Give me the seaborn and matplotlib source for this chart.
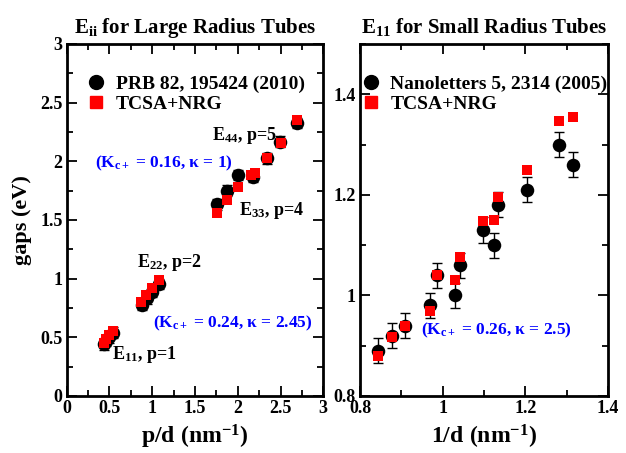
import pandas as pd
import matplotlib
matplotlib.use('Agg')
import matplotlib.pyplot as plt
import seaborn as sns
from matplotlib.ticker import MultipleLocator, FormatStrFormatter
from matplotlib.lines import Line2D

# painel esquerdo: tubos de raio grande
esq_x_exp = [0.435, 0.463, 0.497, 0.54, 0.877, 0.936, 1.0, 1.08,
             1.754, 1.878, 2.007, 2.18, 2.34, 2.495, 2.697]
esq_y_exp = [0.44, 0.47, 0.50, 0.54, 0.776, 0.833, 0.889, 0.955,
             1.634, 1.75, 1.884, 1.865, 2.026, 2.168, 2.325]
esq_x_teo = [0.435, 0.463, 0.497, 0.54, 0.869, 0.927, 0.994, 1.08,
             1.754, 1.878, 2.007, 2.152, 2.2, 2.34, 2.506, 2.697]
esq_y_teo = [0.455, 0.485, 0.52, 0.555, 0.804, 0.861, 0.918, 0.989,
             1.563, 1.671, 1.784, 1.884, 1.9, 2.026, 2.16, 2.353]
esq_erro = 0.045

# painel direito: tubos de raio pequeno
dir_x_exp = [0.844, 0.877, 0.909, 0.970, 0.987, 1.030, 1.041, 1.097,
             1.123, 1.135, 1.204, 1.281, 1.316]
dir_y_exp = [0.89, 0.92, 0.94, 0.98, 1.04, 1.00, 1.06, 1.13,
             1.10, 1.18, 1.21, 1.30, 1.26]
dir_y_teo = [0.88, 0.917, 0.94, 0.97, 1.04, 1.03, 1.076, 1.148,
             1.15, 1.196, 1.25, 1.347, 1.355]
dir_erro = 0.025

sns.set_theme(style="ticks")
plt.rcParams['font.family'] = ['Liberation Serif', 'DejaVu Serif']
plt.rcParams['font.weight'] = 'bold'
plt.rcParams['mathtext.fontset'] = 'custom'
plt.rcParams['mathtext.rm'] = 'Liberation Serif:bold'
plt.rcParams['mathtext.it'] = 'Liberation Serif:bold'
plt.rcParams['mathtext.bf'] = 'Liberation Serif:bold'
for chave in ['text.color', 'axes.labelcolor', 'xtick.color', 'ytick.color', 'axes.edgecolor']:
    plt.rcParams[chave] = 'black'

fig = plt.figure(figsize=(6.26, 4.53), dpi=100)
ax1 = fig.add_axes([66.7 / 626, 1 - 396 / 453, 256.6 / 626, 352 / 453])
ax2 = fig.add_axes([360 / 626, 1 - 396 / 453, 248 / 626, 352 / 453])


def desenha(ax, x_exp, y_exp, erro, x_teo, y_teo):
    df_exp = pd.DataFrame({'x': x_exp, 'y': y_exp})
    df_teo = pd.DataFrame({'x': x_teo, 'y': y_teo})
    ax.errorbar(df_exp['x'], df_exp['y'], yerr=erro, fmt='none', ecolor='black',
                elinewidth=1.0, capsize=3.5, capthick=1.0, zorder=2)
    sns.scatterplot(data=df_exp, x='x', y='y', ax=ax, marker='o', color='black',
                    s=95, edgecolor='black', linewidth=0, zorder=3)
    sns.scatterplot(data=df_teo, x='x', y='y', ax=ax, marker='s', color='red',
                    s=62, edgecolor='red', linewidth=0, zorder=4)


def estilo(ax, maj_x, min_x, maj_y, min_y):
    for sp in ax.spines.values():
        sp.set_linewidth(2.0)
        sp.set_visible(True)
        sp.set_color('black')
    ax.xaxis.set_major_locator(MultipleLocator(maj_x))
    ax.xaxis.set_minor_locator(MultipleLocator(min_x))
    ax.yaxis.set_major_locator(MultipleLocator(maj_y))
    ax.yaxis.set_minor_locator(MultipleLocator(min_y))
    ax.xaxis.set_major_formatter(FormatStrFormatter('%g'))
    ax.yaxis.set_major_formatter(FormatStrFormatter('%g'))
    ax.tick_params(which='both', direction='in', top=True, right=True,
                   width=1.3, labelsize=13, pad=3, colors='black')
    ax.tick_params(which='major', length=7)
    ax.tick_params(which='minor', length=4)
    for lab in ax.get_xticklabels() + ax.get_yticklabels():
        lab.set_fontweight('bold')
    ax.set_xlabel('')
    ax.set_ylabel('')


# painel esquerdo
desenha(ax1, esq_x_exp, esq_y_exp, esq_erro, esq_x_teo, esq_y_teo)
ax1.set_xlim(0, 3)
ax1.set_ylim(0, 3)
estilo(ax1, 0.5, 0.25, 0.5, 0.25)
ax1.set_title(r'E$_{\rm ii}$ for Large Radius Tubes', fontsize=15, fontweight='bold', pad=8)
ax1.set_xlabel(r'$\rm p/d\ (nm^{-1})$', fontsize=17, fontweight='bold')
ax1.set_ylabel('gaps (eV)', fontsize=16, fontweight='bold', labelpad=6)

ax1.text(1.70, 2.22, r'E$_{44}$, p=5', fontsize=13, fontweight='bold', va='center')
ax1.text(2.01, 1.58, r'E$_{33}$, p=4', fontsize=13, fontweight='bold', va='center')
ax1.text(0.82, 1.14, r'E$_{22}$, p=2', fontsize=13, fontweight='bold', va='center')
ax1.text(0.53, 0.35, r'E$_{11}$, p=1', fontsize=13, fontweight='bold', va='center')
ax1.text(0.33, 1.98, r'(K$_{\rm c+}$ = 0.16, κ = 1)', fontsize=12.5, fontweight='bold',
         color='blue', va='center')
ax1.text(1.01, 0.62, r'(K$_{\rm c+}$ = 0.24, κ = 2.45)', fontsize=12.5, fontweight='bold',
         color='blue', va='center')

# painel direito
desenha(ax2, dir_x_exp, dir_y_exp, dir_erro, dir_x_exp, dir_y_teo)
ax2.set_xlim(0.8, 1.4)
ax2.set_ylim(0.8, 1.5)
estilo(ax2, 0.2, 0.1, 0.2, 0.1)
ax2.set_title(r'E$_{11}$ for Small Radius Tubes', fontsize=15, fontweight='bold', pad=8)
ax2.set_xlabel(r'$\rm 1/d\ (nm^{-1})$', fontsize=17, fontweight='bold')
ax2.text(0.947, 0.93, r'(K$_{\rm c+}$ = 0.26, κ = 2.5)', fontsize=12.5, fontweight='bold',
         color='blue', va='center')


def legenda(ax, rotulo, x0):
    h = [Line2D([], [], marker='o', color='black', linestyle='none', markersize=10),
         Line2D([], [], marker='s', color='red', linestyle='none', markersize=8)]
    leg = ax.legend(h, [rotulo, 'TCSA+NRG'], loc='upper left', frameon=False,
                    fontsize=14, handlelength=0.8, handletextpad=0.6,
                    labelspacing=0.15, borderaxespad=0.0, borderpad=0.0,
                    bbox_to_anchor=(x0, 0.912))
    for t in leg.get_texts():
        t.set_fontweight('bold')


legenda(ax1, 'PRB 82, 195424 (2010)', 0.085)
legenda(ax2, 'Nanoletters 5, 2314 (2005)', 0.012)

fig.savefig('out.png', dpi=100)
